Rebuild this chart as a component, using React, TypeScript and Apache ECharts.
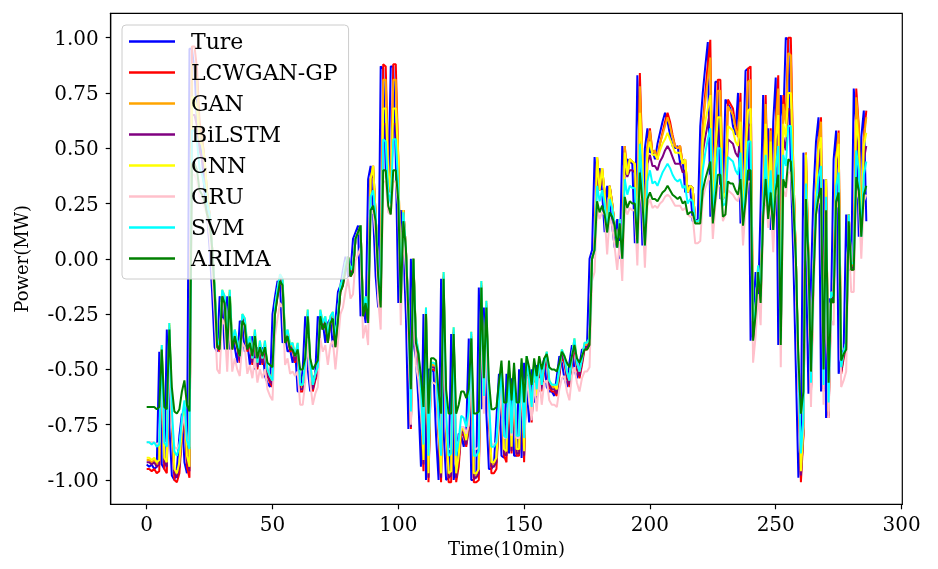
import React, { useEffect, useRef } from "react";
import * as echarts from "echarts";

const seriesNames = ["Ture", "LCWGAN-GP", "GAN", "BiLSTM", "CNN", "GRU", "SVM", "ARIMA"];
const seriesColors = ["#0000ff", "#ff0000", "#ffa500", "#800080", "#ffff00", "#ffc0cb", "#00ffff", "#008000"];
const xTicks = [0, 50, 100, 150, 200, 250, 300];
const yTicks = [-1, -0.75, -0.5, -0.25, 0, 0.25, 0.5, 0.75, 1];

const ture = [
-0.93,-0.94,-0.93,-0.95,-0.94,-0.42,-0.93,-0.95,-0.32,-0.75,
-0.98,-1.00,-0.95,-0.80,-0.70,-0.92,-0.97,0.95,0.95,0.85,
0.62,0.55,0.45,0.30,0.20,0.05,-0.15,-0.40,-0.42,-0.17,
-0.20,-0.41,-0.17,-0.41,-0.35,-0.40,-0.47,-0.28,-0.30,-0.42,
-0.38,-0.48,-0.35,-0.50,-0.40,-0.48,-0.40,-0.53,-0.56,-0.58,
-0.25,-0.17,-0.10,-0.12,-0.38,-0.35,-0.42,-0.41,-0.47,-0.41,
-0.60,-0.60,-0.50,-0.26,-0.50,-0.60,-0.55,-0.52,-0.26,-0.32,
-0.29,-0.38,-0.29,-0.27,-0.40,-0.28,-0.15,-0.12,-0.05,0.01,
-0.08,-0.06,0.09,0.12,0.15,-0.26,-0.20,-0.29,0.36,0.42,
0.20,-0.08,-0.22,0.87,0.86,0.40,0.30,0.87,0.87,0.45,
-0.20,0.22,0.05,-0.25,-0.77,0.00,-0.38,-0.45,-0.65,-0.94,
-0.25,-1.00,-0.50,-0.50,-0.51,-0.80,-1.00,-0.09,-0.78,-1.00,
-0.99,-0.34,-1.00,-0.92,-0.79,-0.80,-0.85,-0.77,-0.36,-1.00,
-1.00,-0.98,-0.13,-0.68,-0.22,-0.70,-0.95,-0.95,-0.93,-0.72,
-0.52,-0.89,-0.90,-0.52,-0.88,-0.54,-0.89,-0.89,-0.50,-0.90,
-0.47,-0.58,-0.74,-0.50,-0.65,-0.48,-0.60,-0.50,-0.45,-0.58,
-0.60,-0.60,-0.62,-0.53,-0.44,-0.47,-0.54,-0.58,-0.47,-0.39,
-0.50,-0.54,-0.48,-0.41,-0.41,-0.39,0.00,0.04,0.46,0.31,
0.41,0.30,0.12,0.33,0.25,0.15,0.05,0.18,0.00,0.51,
0.38,0.45,0.44,0.43,0.07,0.83,0.45,0.06,0.50,0.59,
0.48,0.49,0.45,0.52,0.57,0.62,0.66,0.62,0.56,0.51,
0.50,0.51,0.43,0.45,0.30,0.33,0.32,0.17,0.17,0.18,
0.60,0.75,0.87,0.98,0.19,0.50,0.80,0.80,0.27,0.30,
0.72,0.70,0.68,0.60,0.56,0.75,0.16,0.46,0.85,0.86,
-0.37,-0.25,-0.06,-0.20,0.25,0.74,0.24,0.59,0.13,0.62,
0.82,-0.39,0.74,0.63,1.00,0.99,0.40,0.00,-0.50,-0.99,
-0.80,0.48,0.00,-0.61,-0.10,0.30,0.53,0.64,-0.60,0.36,
-0.72,-0.18,-0.20,0.45,0.58,-0.52,-0.45,-0.41,0.20,-0.05,
-0.05,0.77,0.60,0.10,0.55,0.67,0.17
];

const lcwganGp = [
-0.95,-0.95,-0.96,-0.95,-0.97,-0.96,-0.42,-0.95,-0.97,-0.32,
-0.75,-1.00,-1.01,-0.97,-0.80,-0.70,-0.94,-0.99,0.96,0.96,
0.86,0.62,0.55,0.45,0.30,0.20,0.05,-0.15,-0.40,-0.42,
-0.17,-0.20,-0.41,-0.17,-0.41,-0.35,-0.40,-0.47,-0.28,-0.30,
-0.42,-0.38,-0.48,-0.35,-0.50,-0.40,-0.48,-0.40,-0.53,-0.56,
-0.58,-0.25,-0.17,-0.10,-0.12,-0.38,-0.35,-0.42,-0.41,-0.47,
-0.41,-0.60,-0.60,-0.50,-0.26,-0.50,-0.60,-0.55,-0.52,-0.26,
-0.32,-0.29,-0.38,-0.29,-0.27,-0.40,-0.28,-0.15,-0.12,-0.05,
0.01,-0.08,-0.06,0.09,0.12,0.15,-0.26,-0.20,-0.29,0.36,
0.42,0.20,-0.08,-0.22,0.88,0.87,0.40,0.30,0.88,0.88,
0.45,-0.20,0.22,0.05,-0.25,-0.77,0.00,-0.38,-0.45,-0.65,
-0.96,-0.25,-1.01,-0.50,-0.50,-0.51,-0.80,-1.01,-0.09,-0.78,
-1.01,-1.01,-0.34,-1.01,-0.94,-0.79,-0.80,-0.85,-0.77,-0.36,
-1.01,-1.01,-1.00,-0.13,-0.68,-0.22,-0.70,-0.97,-0.97,-0.95,
-0.72,-0.52,-0.89,-0.92,-0.52,-0.88,-0.54,-0.89,-0.89,-0.50,
-0.92,-0.47,-0.58,-0.74,-0.50,-0.65,-0.48,-0.60,-0.50,-0.45,
-0.58,-0.60,-0.60,-0.62,-0.53,-0.44,-0.47,-0.54,-0.58,-0.47,
-0.39,-0.50,-0.54,-0.48,-0.41,-0.41,-0.39,0.00,0.04,0.46,
0.31,0.41,0.30,0.12,0.33,0.25,0.15,0.05,0.18,0.00,
0.51,0.38,0.45,0.44,0.43,0.07,0.84,0.45,0.06,0.50,
0.59,0.48,0.49,0.45,0.52,0.57,0.62,0.66,0.62,0.56,
0.51,0.50,0.51,0.43,0.45,0.30,0.33,0.32,0.17,0.17,
0.18,0.60,0.75,0.88,0.99,0.19,0.50,0.81,0.81,0.27,
0.30,0.72,0.70,0.68,0.60,0.56,0.75,0.16,0.46,0.86,
0.87,-0.37,-0.25,-0.06,-0.20,0.25,0.74,0.24,0.59,0.13,
0.62,0.83,-0.39,0.74,0.63,1.00,1.00,0.40,0.00,-0.50,
-1.01,-0.80,0.48,0.00,-0.61,-0.10,0.30,0.53,0.64,-0.60,
0.36,-0.72,-0.18,-0.20,0.45,0.58,-0.52,-0.45,-0.41,0.20,
-0.05,-0.05,0.77,0.60,0.10,0.55,0.67
];

const gan = [
-0.91,-0.91,-0.92,-0.91,-0.93,-0.92,-0.40,-0.91,-0.93,-0.30,
-0.73,-0.96,-0.98,-0.93,-0.78,-0.68,-0.90,-0.95,0.88,0.88,
0.80,0.60,0.54,0.45,0.30,0.20,0.05,-0.13,-0.38,-0.40,
-0.15,-0.18,-0.39,-0.15,-0.39,-0.33,-0.38,-0.45,-0.26,-0.28,
-0.40,-0.36,-0.46,-0.33,-0.48,-0.38,-0.46,-0.38,-0.51,-0.54,
-0.56,-0.23,-0.15,-0.08,-0.10,-0.36,-0.33,-0.40,-0.39,-0.45,
-0.39,-0.58,-0.58,-0.48,-0.24,-0.48,-0.58,-0.53,-0.50,-0.24,
-0.30,-0.27,-0.36,-0.27,-0.25,-0.38,-0.26,-0.13,-0.10,-0.03,
0.01,-0.06,-0.04,0.09,0.12,0.15,-0.24,-0.18,-0.27,0.36,
0.42,0.20,-0.06,-0.20,0.81,0.81,0.40,0.30,0.81,0.81,
0.45,-0.18,0.22,0.05,-0.23,-0.75,0.00,-0.36,-0.43,-0.63,
-0.92,-0.23,-0.98,-0.48,-0.48,-0.49,-0.78,-0.98,-0.07,-0.76,
-0.98,-0.97,-0.32,-0.98,-0.90,-0.77,-0.78,-0.83,-0.75,-0.34,
-0.98,-0.98,-0.96,-0.11,-0.66,-0.20,-0.68,-0.93,-0.93,-0.91,
-0.70,-0.50,-0.87,-0.88,-0.50,-0.86,-0.52,-0.87,-0.87,-0.48,
-0.88,-0.45,-0.56,-0.72,-0.48,-0.63,-0.46,-0.58,-0.48,-0.43,
-0.56,-0.58,-0.58,-0.60,-0.51,-0.42,-0.45,-0.52,-0.56,-0.45,
-0.37,-0.48,-0.52,-0.46,-0.39,-0.39,-0.37,0.00,0.04,0.46,
0.31,0.41,0.30,0.12,0.33,0.25,0.15,0.05,0.18,0.00,
0.51,0.38,0.45,0.44,0.43,0.07,0.78,0.45,0.06,0.50,
0.58,0.48,0.49,0.45,0.52,0.56,0.60,0.64,0.60,0.55,
0.51,0.50,0.51,0.43,0.45,0.30,0.33,0.32,0.17,0.17,
0.18,0.59,0.71,0.81,0.91,0.19,0.50,0.76,0.76,0.27,
0.30,0.69,0.67,0.65,0.59,0.55,0.71,0.16,0.46,0.80,
0.81,-0.35,-0.23,-0.04,-0.18,0.25,0.70,0.24,0.58,0.13,
0.60,0.77,-0.37,0.70,0.61,0.93,0.92,0.40,0.00,-0.48,
-0.97,-0.78,0.48,0.00,-0.59,-0.08,0.30,0.53,0.62,-0.58,
0.36,-0.70,-0.16,-0.18,0.45,0.57,-0.50,-0.43,-0.39,0.20,
-0.03,-0.03,0.73,0.59,0.10,0.54,0.64
];

const biLstm = [
-0.92,-0.92,-0.93,-0.92,-0.94,-0.93,-0.41,-0.92,-0.94,-0.31,
-0.74,-0.97,-0.99,-0.94,-0.79,-0.69,-0.91,-0.96,0.65,0.65,
0.60,0.49,0.45,0.40,0.30,0.20,0.05,-0.14,-0.39,-0.41,
-0.16,-0.19,-0.40,-0.16,-0.40,-0.34,-0.39,-0.46,-0.27,-0.29,
-0.41,-0.37,-0.47,-0.34,-0.49,-0.39,-0.47,-0.39,-0.52,-0.55,
-0.57,-0.24,-0.16,-0.09,-0.11,-0.37,-0.34,-0.41,-0.40,-0.46,
-0.40,-0.59,-0.59,-0.49,-0.25,-0.49,-0.59,-0.54,-0.51,-0.25,
-0.31,-0.28,-0.37,-0.28,-0.26,-0.39,-0.27,-0.14,-0.11,-0.04,
0.01,-0.07,-0.05,0.09,0.12,0.15,-0.25,-0.19,-0.28,0.36,
0.39,0.20,-0.07,-0.21,0.61,0.61,0.38,0.30,0.61,0.61,
0.40,-0.19,0.22,0.05,-0.24,-0.76,0.00,-0.37,-0.44,-0.64,
-0.93,-0.24,-0.99,-0.49,-0.49,-0.50,-0.79,-0.99,-0.08,-0.77,
-0.99,-0.98,-0.33,-0.99,-0.91,-0.78,-0.79,-0.84,-0.76,-0.35,
-0.99,-0.99,-0.97,-0.12,-0.67,-0.21,-0.69,-0.94,-0.94,-0.92,
-0.71,-0.51,-0.88,-0.89,-0.51,-0.87,-0.53,-0.88,-0.88,-0.49,
-0.89,-0.46,-0.57,-0.73,-0.49,-0.64,-0.47,-0.59,-0.49,-0.44,
-0.57,-0.59,-0.59,-0.61,-0.52,-0.43,-0.46,-0.53,-0.57,-0.46,
-0.38,-0.49,-0.53,-0.47,-0.40,-0.40,-0.38,0.00,0.04,0.41,
0.31,0.38,0.30,0.12,0.33,0.25,0.15,0.05,0.18,0.00,
0.43,0.37,0.40,0.40,0.39,0.07,0.59,0.40,0.06,0.43,
0.47,0.42,0.42,0.40,0.44,0.46,0.49,0.51,0.49,0.46,
0.43,0.43,0.43,0.39,0.40,0.30,0.33,0.32,0.17,0.17,
0.18,0.48,0.55,0.61,0.67,0.19,0.43,0.58,0.58,0.27,
0.30,0.54,0.53,0.52,0.48,0.46,0.55,0.16,0.41,0.60,
0.61,-0.36,-0.24,-0.05,-0.19,0.25,0.55,0.24,0.47,0.13,
0.49,0.59,-0.38,0.55,0.49,0.68,0.67,0.38,0.00,-0.49,
-0.98,-0.79,0.42,0.00,-0.60,-0.09,0.30,0.44,0.50,-0.59,
0.36,-0.71,-0.17,-0.19,0.40,0.47,-0.51,-0.44,-0.40,0.20,
-0.04,-0.04,0.56,0.48,0.10,0.45,0.51
];

const cnn = [
-0.90,-0.90,-0.91,-0.90,-0.92,-0.91,-0.39,-0.90,-0.92,-0.29,
-0.72,-0.95,-0.97,-0.92,-0.77,-0.67,-0.89,-0.94,0.73,0.73,
0.67,0.54,0.51,0.45,0.30,0.20,0.05,-0.12,-0.37,-0.39,
-0.14,-0.17,-0.38,-0.14,-0.38,-0.32,-0.37,-0.44,-0.25,-0.27,
-0.39,-0.35,-0.45,-0.32,-0.47,-0.37,-0.45,-0.37,-0.50,-0.53,
-0.55,-0.22,-0.14,-0.07,-0.09,-0.35,-0.32,-0.39,-0.38,-0.44,
-0.38,-0.57,-0.57,-0.47,-0.23,-0.47,-0.57,-0.52,-0.49,-0.23,
-0.29,-0.26,-0.35,-0.26,-0.24,-0.37,-0.25,-0.12,-0.09,-0.02,
0.01,-0.05,-0.03,0.09,0.12,0.15,-0.23,-0.17,-0.26,0.36,
0.42,0.20,-0.05,-0.19,0.68,0.68,0.40,0.30,0.68,0.68,
0.45,-0.17,0.22,0.05,-0.22,-0.74,0.00,-0.35,-0.42,-0.62,
-0.91,-0.22,-0.97,-0.47,-0.47,-0.48,-0.77,-0.97,-0.06,-0.75,
-0.97,-0.96,-0.31,-0.97,-0.89,-0.76,-0.77,-0.82,-0.74,-0.33,
-0.97,-0.97,-0.95,-0.10,-0.65,-0.19,-0.67,-0.92,-0.92,-0.90,
-0.69,-0.49,-0.86,-0.87,-0.49,-0.85,-0.51,-0.86,-0.86,-0.47,
-0.87,-0.44,-0.55,-0.71,-0.47,-0.62,-0.45,-0.57,-0.47,-0.42,
-0.55,-0.57,-0.57,-0.59,-0.50,-0.41,-0.44,-0.51,-0.55,-0.44,
-0.36,-0.47,-0.51,-0.45,-0.38,-0.38,-0.36,0.00,0.04,0.46,
0.31,0.41,0.30,0.12,0.33,0.25,0.15,0.05,0.18,0.00,
0.48,0.38,0.45,0.44,0.43,0.07,0.66,0.45,0.06,0.48,
0.53,0.47,0.47,0.45,0.49,0.52,0.54,0.57,0.54,0.51,
0.48,0.48,0.48,0.43,0.45,0.30,0.33,0.32,0.17,0.17,
0.18,0.53,0.62,0.68,0.74,0.19,0.48,0.64,0.64,0.27,
0.30,0.60,0.59,0.58,0.53,0.51,0.62,0.16,0.46,0.67,
0.68,-0.34,-0.22,-0.03,-0.17,0.25,0.61,0.24,0.53,0.13,
0.54,0.65,-0.36,0.61,0.55,0.75,0.75,0.40,0.00,-0.47,
-0.96,-0.77,0.47,0.00,-0.58,-0.07,0.30,0.49,0.55,-0.57,
0.36,-0.69,-0.15,-0.17,0.45,0.52,-0.49,-0.42,-0.38,0.20,
-0.02,-0.02,0.63,0.53,0.10,0.51,0.57
];

const gru = [
-0.83,-0.83,-0.83,-0.83,-0.84,-0.83,-0.52,-0.83,-0.84,-0.42,
-0.74,-0.85,-0.86,-0.84,-0.76,-0.71,-0.82,-0.85,0.38,0.38,
0.35,0.28,0.26,0.23,0.20,0.10,-0.05,-0.25,-0.50,-0.52,
-0.27,-0.30,-0.51,-0.27,-0.51,-0.45,-0.50,-0.53,-0.38,-0.40,
-0.52,-0.48,-0.54,-0.45,-0.56,-0.50,-0.54,-0.50,-0.59,-0.62,
-0.64,-0.35,-0.27,-0.20,-0.22,-0.48,-0.45,-0.52,-0.51,-0.53,
-0.51,-0.66,-0.66,-0.56,-0.36,-0.56,-0.66,-0.61,-0.58,-0.36,
-0.42,-0.39,-0.48,-0.39,-0.37,-0.50,-0.38,-0.25,-0.22,-0.15,
-0.09,-0.18,-0.16,-0.01,0.02,0.05,-0.36,-0.30,-0.39,0.20,
0.22,0.10,-0.18,-0.32,0.35,0.35,0.21,0.20,0.35,0.35,
0.23,-0.30,0.12,-0.05,-0.35,-0.75,-0.10,-0.48,-0.55,-0.69,
-0.83,-0.35,-0.86,-0.56,-0.56,-0.57,-0.76,-0.86,-0.19,-0.75,
-0.86,-0.86,-0.44,-0.86,-0.82,-0.76,-0.76,-0.79,-0.75,-0.46,
-0.86,-0.86,-0.85,-0.23,-0.70,-0.32,-0.71,-0.84,-0.84,-0.83,
-0.72,-0.58,-0.81,-0.81,-0.58,-0.80,-0.60,-0.81,-0.81,-0.56,
-0.81,-0.53,-0.64,-0.73,-0.56,-0.69,-0.54,-0.66,-0.56,-0.55,
-0.64,-0.66,-0.66,-0.67,-0.59,-0.54,-0.53,-0.60,-0.64,-0.53,
-0.49,-0.56,-0.60,-0.54,-0.51,-0.51,-0.49,-0.10,-0.06,0.23,
0.18,0.21,0.20,0.02,0.19,0.15,0.05,-0.05,0.08,-0.10,
0.24,0.20,0.23,0.22,0.22,-0.03,0.34,0.23,-0.04,0.24,
0.27,0.23,0.24,0.23,0.25,0.26,0.28,0.29,0.28,0.26,
0.24,0.24,0.24,0.22,0.23,0.20,0.19,0.19,0.07,0.07,
0.08,0.27,0.32,0.35,0.38,0.09,0.24,0.33,0.33,0.17,
0.20,0.31,0.30,0.29,0.27,0.26,0.32,0.06,0.23,0.35,
0.35,-0.47,-0.35,-0.16,-0.30,0.15,0.31,0.14,0.27,0.03,
0.28,0.34,-0.49,0.31,0.28,0.39,0.39,0.21,-0.10,-0.56,
-0.86,-0.76,0.23,-0.10,-0.67,-0.20,0.20,0.25,0.28,-0.66,
0.20,-0.72,-0.28,-0.30,0.23,0.26,-0.58,-0.55,-0.51,0.10,
-0.15,-0.15,0.32,0.27,0.00,0.26,0.29
];

const svm = [
-0.83,-0.83,-0.84,-0.83,-0.85,-0.84,-0.39,-0.83,-0.85,-0.29,
-0.68,-0.87,-0.89,-0.85,-0.72,-0.64,-0.82,-0.86,0.58,0.58,
0.53,0.41,0.38,0.33,0.25,0.20,0.05,-0.12,-0.37,-0.39,
-0.14,-0.17,-0.38,-0.14,-0.38,-0.32,-0.37,-0.44,-0.25,-0.27,
-0.39,-0.35,-0.45,-0.32,-0.47,-0.37,-0.45,-0.37,-0.50,-0.53,
-0.55,-0.22,-0.14,-0.07,-0.09,-0.35,-0.32,-0.39,-0.38,-0.44,
-0.38,-0.57,-0.57,-0.47,-0.23,-0.47,-0.57,-0.52,-0.49,-0.23,
-0.29,-0.26,-0.35,-0.26,-0.24,-0.37,-0.25,-0.12,-0.09,-0.02,
0.01,-0.05,-0.03,0.09,0.12,0.15,-0.23,-0.17,-0.26,0.28,
0.31,0.20,-0.05,-0.19,0.54,0.53,0.30,0.25,0.54,0.54,
0.33,-0.17,0.21,0.05,-0.22,-0.69,0.00,-0.35,-0.42,-0.59,
-0.84,-0.22,-0.89,-0.47,-0.47,-0.48,-0.72,-0.89,-0.06,-0.70,
-0.89,-0.88,-0.31,-0.89,-0.82,-0.71,-0.72,-0.76,-0.69,-0.33,
-0.89,-0.89,-0.87,-0.10,-0.62,-0.19,-0.64,-0.85,-0.85,-0.83,
-0.65,-0.49,-0.80,-0.81,-0.49,-0.79,-0.51,-0.80,-0.80,-0.47,
-0.81,-0.44,-0.55,-0.67,-0.47,-0.59,-0.45,-0.57,-0.47,-0.42,
-0.55,-0.57,-0.57,-0.57,-0.50,-0.41,-0.44,-0.51,-0.55,-0.44,
-0.36,-0.47,-0.51,-0.45,-0.38,-0.38,-0.36,0.00,0.04,0.33,
0.26,0.31,0.25,0.12,0.27,0.23,0.15,0.05,0.18,0.00,
0.36,0.29,0.33,0.32,0.32,0.07,0.52,0.33,0.06,0.35,
0.40,0.34,0.35,0.33,0.36,0.39,0.41,0.43,0.41,0.38,
0.36,0.35,0.36,0.32,0.33,0.25,0.27,0.26,0.17,0.17,
0.18,0.40,0.48,0.54,0.59,0.19,0.35,0.50,0.50,0.24,
0.25,0.46,0.45,0.44,0.40,0.38,0.48,0.16,0.33,0.53,
0.53,-0.34,-0.22,-0.03,-0.17,0.23,0.47,0.22,0.40,0.13,
0.41,0.51,-0.36,0.47,0.42,0.60,0.60,0.30,0.00,-0.47,
-0.88,-0.72,0.34,0.00,-0.56,-0.07,0.25,0.37,0.42,-0.57,
0.28,-0.65,-0.15,-0.17,0.33,0.39,-0.49,-0.42,-0.38,0.20,
-0.02,-0.02,0.49,0.40,0.10,0.38,0.44
];

const arima = [
-0.67,-0.67,-0.67,-0.67,-0.68,-0.67,-0.41,-0.67,-0.68,-0.32,
-0.58,-0.69,-0.70,-0.68,-0.60,-0.55,-0.66,-0.69,0.43,0.43,
0.40,0.31,0.29,0.26,0.20,0.17,0.05,-0.15,-0.40,-0.41,
-0.17,-0.20,-0.41,-0.17,-0.41,-0.35,-0.40,-0.44,-0.28,-0.30,
-0.41,-0.38,-0.44,-0.35,-0.45,-0.40,-0.44,-0.40,-0.47,-0.48,
-0.49,-0.25,-0.17,-0.10,-0.12,-0.38,-0.35,-0.41,-0.41,-0.44,
-0.41,-0.50,-0.50,-0.45,-0.26,-0.45,-0.50,-0.48,-0.46,-0.26,
-0.32,-0.29,-0.38,-0.29,-0.27,-0.40,-0.28,-0.15,-0.12,-0.05,
0.01,-0.08,-0.06,0.09,0.12,0.15,-0.26,-0.20,-0.29,0.22,
0.24,0.17,-0.08,-0.22,0.40,0.40,0.24,0.20,0.40,0.40,
0.26,-0.20,0.17,0.05,-0.25,-0.59,0.00,-0.38,-0.43,-0.53,
-0.67,-0.25,-0.70,-0.45,-0.45,-0.46,-0.60,-0.70,-0.09,-0.59,
-0.70,-0.70,-0.34,-0.70,-0.66,-0.60,-0.60,-0.63,-0.59,-0.36,
-0.70,-0.70,-0.69,-0.13,-0.54,-0.22,-0.55,-0.68,-0.68,-0.67,
-0.56,-0.46,-0.65,-0.65,-0.46,-0.64,-0.47,-0.65,-0.65,-0.45,
-0.65,-0.44,-0.49,-0.57,-0.45,-0.53,-0.44,-0.50,-0.45,-0.43,
-0.49,-0.50,-0.50,-0.51,-0.47,-0.42,-0.44,-0.47,-0.49,-0.44,
-0.39,-0.45,-0.47,-0.44,-0.41,-0.41,-0.39,0.00,0.04,0.26,
0.21,0.24,0.20,0.12,0.21,0.19,0.15,0.05,0.16,0.00,
0.28,0.23,0.26,0.25,0.25,0.07,0.39,0.26,0.06,0.27,
0.30,0.27,0.27,0.26,0.28,0.30,0.31,0.33,0.31,0.29,
0.28,0.27,0.28,0.25,0.26,0.20,0.21,0.21,0.16,0.16,
0.16,0.31,0.36,0.40,0.44,0.16,0.27,0.38,0.38,0.19,
0.20,0.35,0.34,0.34,0.31,0.29,0.36,0.15,0.26,0.40,
0.40,-0.37,-0.25,-0.06,-0.20,0.19,0.36,0.18,0.30,0.13,
0.31,0.38,-0.39,0.36,0.32,0.45,0.44,0.24,0.00,-0.45,
-0.70,-0.60,0.27,0.00,-0.51,-0.10,0.20,0.28,0.32,-0.50,
0.22,-0.56,-0.18,-0.20,0.26,0.30,-0.46,-0.43,-0.41,0.17,
-0.05,-0.05,0.37,0.31,0.10,0.29,0.33
];

const seriesValues = [ture, lcwganGp, gan, biLstm, cnn, gru, svm, arima];

const FONT = "DejaVu Serif";

export default function App() {
  const ref = useRef<HTMLDivElement>(null);
  useEffect(() => {
    if (!ref.current) return;
    const chart = echarts.init(ref.current, undefined, { renderer: "svg" });
    const series = seriesNames.map((name, k) => ({
      name,
      type: "line",
      data: seriesValues[k].map((v, i) => [i, v]),
      showSymbol: false,
      symbol: "none",
      lineStyle: { width: 2, color: seriesColors[k] },
      itemStyle: { color: seriesColors[k] },
      silent: true,
      z: 2,
    }));
    chart.setOption({
      animation: false,
      textStyle: { fontFamily: FONT },
      grid: {
        left: 110.7,
        right: 35.7,
        top: 13.3,
        bottom: 64.7,
        show: true,
        borderColor: "#000",
        borderWidth: 1.2,
        backgroundColor: "transparent",
      },
      xAxis: {
        type: "value",
        min: -14.3,
        max: 300.3,
        name: "Time(10min)",
        nameLocation: "middle",
        nameGap: 35,
        nameTextStyle: { fontSize: 18, color: "#000", fontFamily: FONT },
        axisLine: { show: true, onZero: false, lineStyle: { color: "#000", width: 1.2 } },
        axisTick: { show: true, length: 5, lineStyle: { color: "#000", width: 1.2 }, customValues: xTicks },
        axisLabel: { customValues: xTicks, color: "#000", fontSize: 20, margin: 10, fontFamily: FONT },
        splitLine: { show: false },
      },
      yAxis: {
        type: "value",
        min: -1.11,
        max: 1.11,
        name: "Power(MW)",
        nameLocation: "middle",
        nameGap: 80,
        nameTextStyle: { fontSize: 18, color: "#000", fontFamily: FONT },
        axisLine: { show: true, onZero: false, lineStyle: { color: "#000", width: 1.2 } },
        axisTick: { show: true, length: 5, lineStyle: { color: "#000", width: 1.2 }, customValues: yTicks },
        axisLabel: {
          customValues: yTicks,
          color: "#000",
          fontSize: 20,
          margin: 12,
          fontFamily: FONT,
          formatter: (v: number) => v.toFixed(2),
        },
        splitLine: { show: false },
      },
      legend: {
        data: seriesNames,
        orient: "vertical",
        left: 122,
        top: 25,
        padding: [1, 11, 5, 7],
        itemGap: 0,
        itemWidth: 46,
        itemHeight: 2.5,
        icon: "rect",
        backgroundColor: "rgba(255,255,255,0.8)",
        borderColor: "#cccccc",
        borderWidth: 1,
        borderRadius: 4,
        selectedMode: false,
        textStyle: { fontFamily: FONT, fontSize: 22, color: "#000", lineHeight: 31, padding: [0, 0, 0, 11] },
        z: 10,
      },
      series,
    });
    return () => chart.dispose();
  }, []);
  return <div ref={ref} style={{ position: "fixed", left: 0, top: 0, width: 938, height: 569 }} />;
}
